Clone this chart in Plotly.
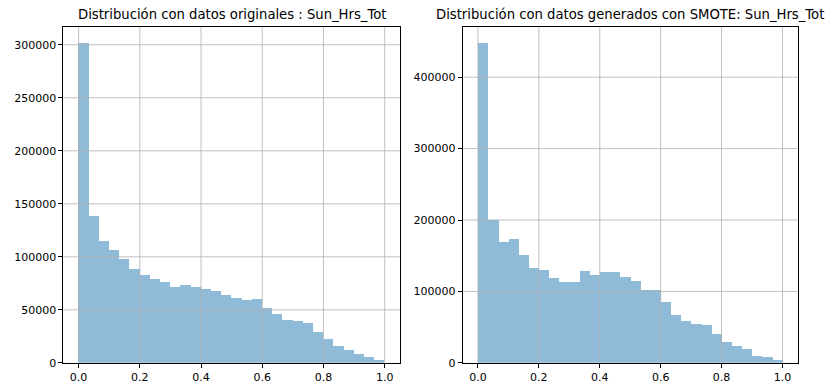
import plotly.graph_objects as go

# 30 bins between 0 and 1
bin_edges_start = 0.0
bin_edges_end = 1.0
n_bins = 30

counts_original = [301500, 138500, 114500, 106200, 98100, 88300, 82400, 78700, 76200, 71600,
                   73100, 71600, 69700, 67300, 63600, 60800, 58700, 59900, 51800, 46300,
                   40100, 38900, 37400, 29000, 21900, 16000, 12000, 7700, 5200, 2500]

counts_smote = [447600, 199500, 169300, 173000, 151000, 133200, 130000, 118100, 113000, 113000,
                127700, 123100, 126800, 126800, 119500, 114400, 102100, 101100, 85600, 66400,
                57700, 54500, 53100, 39800, 28800, 22900, 19200, 9200, 8200, 3200]

title_left = "Distribución con datos originales : Sun_Hrs_Tot"
title_right = "Distribución con datos generados con SMOTE: Sun_Hrs_Tot"

x_ticks = [0.0, 0.2, 0.4, 0.6, 0.8, 1.0]
x_ticklabels = ["0.0", "0.2", "0.4", "0.6", "0.8", "1.0"]
y_ticks_left = [0, 50000, 100000, 150000, 200000, 250000, 300000]
y_ticks_right = [0, 100000, 200000, 300000, 400000]

width = (bin_edges_end - bin_edges_start) / n_bins
centers = [bin_edges_start + width * (i + 0.5) for i in range(n_bins)]

bar_color = "#8fbbd9"
grid_color = "#b0b0b0"
font_family = "DejaVu Sans"

fig = go.Figure()
fig.add_trace(go.Bar(x=centers, y=counts_original, width=width, marker=dict(color=bar_color, line=dict(width=0)),
                     xaxis="x", yaxis="y", showlegend=False, hoverinfo="x+y"))
fig.add_trace(go.Bar(x=centers, y=counts_smote, width=width, marker=dict(color=bar_color, line=dict(width=0)),
                     xaxis="x2", yaxis="y2", showlegend=False, hoverinfo="x+y"))

W, H = 831, 389
dom_y = [(389 - 369.5) / H, (389 - 27.7) / H]
dom_x1 = [63.3 / W, 400.0 / W]
dom_x2 = [462.7 / W, 797.7 / W]

axis_common = dict(showline=True, linecolor="black", linewidth=0.8, mirror=True,
                   ticks="outside", ticklen=4, tickwidth=0.8, tickcolor="black",
                   showgrid=False, zeroline=False, layer="above traces",
                   tickfont=dict(family=font_family, size=11, color="black"))

fig.update_layout(
    width=W, height=H, margin=dict(l=0, r=0, t=0, b=0),
    paper_bgcolor="white", plot_bgcolor="white", bargap=0,
    font=dict(family=font_family, color="black"),
    xaxis=dict(domain=dom_x1, range=[-0.05, 1.05], tickvals=x_ticks, ticktext=x_ticklabels, anchor="y", **axis_common),
    yaxis=dict(domain=dom_y, range=[0, max(counts_original) * 1.05], tickvals=y_ticks_left,
               ticktext=[str(v) for v in y_ticks_left], anchor="x", **axis_common),
    xaxis2=dict(domain=dom_x2, range=[-0.05, 1.05], tickvals=x_ticks, ticktext=x_ticklabels, anchor="y2", **axis_common),
    yaxis2=dict(domain=dom_y, range=[0, max(counts_smote) * 1.05], tickvals=y_ticks_right,
                ticktext=[str(v) for v in y_ticks_right], anchor="x2", **axis_common),
)

# grid lines drawn above the bars (as in matplotlib's default)
for xa, ya, yt in [("x", "y", y_ticks_left), ("x2", "y2", y_ticks_right)]:
    for xv in x_ticks:
        fig.add_shape(type="line", xref=xa, yref=ya + " domain", x0=xv, x1=xv, y0=0, y1=1,
                      line=dict(color=grid_color, width=0.8), layer="above")
    for yv in yt[1:]:
        fig.add_shape(type="line", xref=xa + " domain", yref=ya, x0=0, x1=1, y0=yv, y1=yv,
                      line=dict(color=grid_color, width=0.8), layer="above")

for title, dom in [(title_left, dom_x1), (title_right, dom_x2)]:
    fig.add_annotation(text=title, xref="paper", yref="paper", x=(dom[0] + dom[1]) / 2, y=dom_y[1],
                       xanchor="center", yanchor="bottom", yshift=3, showarrow=False,
                       font=dict(family=font_family, size=13.2, color="black"))

fig.write_html("out.html")
